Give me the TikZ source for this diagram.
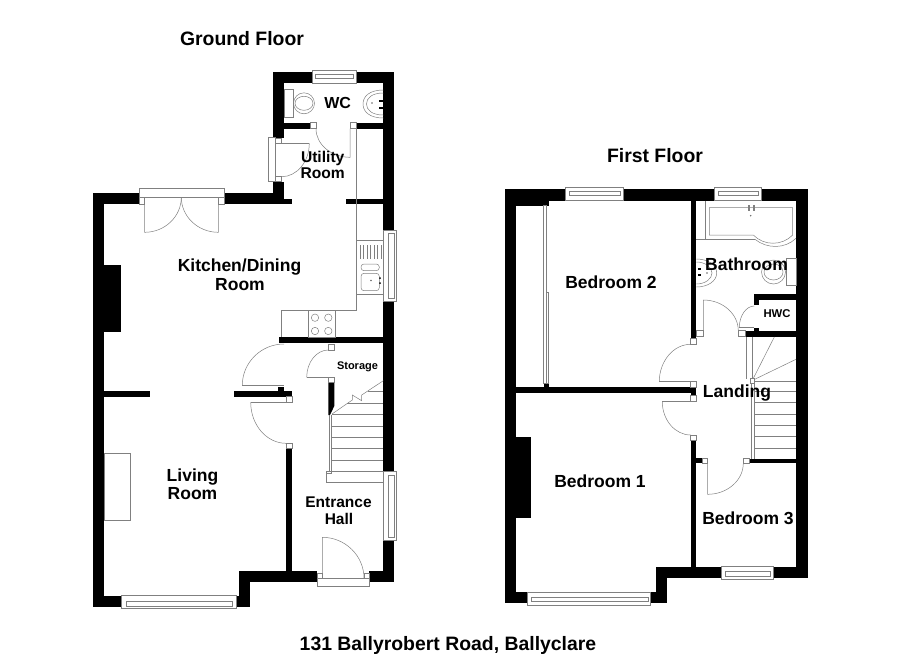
\documentclass[tikz,border=0pt]{standalone}
\usepackage{fontspec}
\setmainfont{Liberation Sans}
\usetikzlibrary{calc}
\tikzset{
    wall/.style={fill=black},
    fitting/.style={draw=black!50,line width=0.5pt},
    jamb/.style={draw=black!50,line width=0.5pt,fill=white},
    roomlabel/.style={font=\bfseries\fontsize{#1}{#1}\selectfont,inner sep=0pt},
    roomlabel/.default=17.5
}
\newcommand{\doorleaf}[3]{\draw[fitting] (#1) -- (#2) .. controls ($(#2)+0.55*(#3)-0.55*(#1)$) and ($(#3)+0.55*(#2)-0.55*(#1)$) .. (#3);}
\newcommand{\doorarc}[3]{\draw[fitting] (#2) .. controls ($(#2)+0.55*(#3)-0.55*(#1)$) and ($(#3)+0.55*(#2)-0.55*(#1)$) .. (#3);}
\begin{document}
\begin{tikzpicture}[x=1pt,y=-1pt]
    \useasboundingbox (0,0) rectangle (900,654);

    \fill[wall] (273.3,72) rectangle (312.7,83.3);
    \fill[wall] (356,72) rectangle (394.3,83.3);
    \fill[wall] (273.3,72) rectangle (284,138.3);
    \fill[wall] (383.3,72) rectangle (394.3,230);
    \fill[wall] (383.3,301) rectangle (394.3,471);
    \fill[wall] (383.3,540.7) rectangle (394.3,581.7);
    \fill[wall] (284,122.7) rectangle (310.7,128.7);
    \fill[wall] (356,122.7) rectangle (383.3,128.7);
    \fill[wall] (273.3,181.7) rectangle (284,204.3);
    \fill[wall] (223.3,193.3) rectangle (284,204.3);
    \fill[wall] (284,199) rectangle (292.3,204.3);
    \fill[wall] (345.7,199) rectangle (383.3,204.3);
    \fill[wall] (92.7,193.3) rectangle (139.3,204.3);
    \fill[wall] (92.7,193.3) rectangle (104,606.7);
    \fill[wall] (104,265.3) rectangle (120.7,331.7);
    \fill[wall] (278.7,337.3) rectangle (383.3,343.3);
    \fill[wall] (104,391.3) rectangle (150,396.7);
    \fill[wall] (233.7,391.3) rectangle (292,396.7);
    \fill[wall] (278.3,387.3) rectangle (284,391.3);
    \fill[wall] (286,448.3) rectangle (292,570.7);
    \fill[wall] (92.7,596) rectangle (121.7,606.7);
    \fill[wall] (236.7,596) rectangle (250,606.7);
    \fill[wall] (239.3,570.7) rectangle (250,606.7);
    \fill[wall] (239.3,570.7) rectangle (317.3,581.7);
    \fill[wall] (369.3,570.7) rectangle (394.3,581.7);
    \fill[wall] (328.3,382.3) -- (334.3,382.3) -- (334.3,406) -- (330,415) -- (328.3,415) -- cycle;

    \draw[jamb] (312.7,70.7) rectangle (356,83.3);
    \draw[fitting] (315,74) rectangle (353.5,78);
    \draw[jamb] (139.3,188.3) rectangle (224,197.3);
    \draw[jamb] (139.3,197.3) rectangle (144.7,204.3);
    \draw[jamb] (218.3,197.3) rectangle (224,204.3);
    \doorleaf{144.7,197.3}{144.7,232.3}{181.3,197.3}
    \doorleaf{218.3,197.3}{218.3,232.3}{181.3,197.3}
    \draw[jamb] (268.3,137.3) rectangle (275.7,181.7);
    \draw[jamb] (275.7,138.3) rectangle (281.7,143.3);
    \draw[jamb] (275.7,176.7) rectangle (281.7,181.7);
    \draw[fitting] (275.7,143.3) -- (309.3,143.3);
    \doorarc{281.7,143.3}{309.3,143.3}{281.7,176.7}
    \draw[jamb] (310.7,122.7) rectangle (316,128.7);
    \draw[jamb] (350,122.7) rectangle (356,128.7);
    \doorleaf{350,128.7}{350,157.3}{316,128.7}

    \draw[fitting] (284,89.3) rectangle (293.3,117.3);
    \draw[fitting] (304,103.3) ellipse [x radius=10.5,y radius=10.5];
    \draw[fitting] (304,103.3) ellipse [x radius=9,y radius=7];
    \draw[fitting] (383.3,90) .. controls (370,90) and (363,96) .. (363,104) .. controls (363,112) and (370,118) .. (383.3,118);
    \draw[fitting] (383.3,93) .. controls (372,93) and (366.5,98) .. (366.5,104) .. controls (366.5,110) and (372,115) .. (383.3,115);
    \fill[black] (379,99.5) rectangle (383,101.5);
    \fill[black] (379,106.5) rectangle (383,108.5);
    \fill[black!60] (372,103) circle (0.8);

    \draw[fitting] (356.7,128.7) -- (356.7,310) -- (281.3,310) -- (281.3,337.3);
    \draw[fitting] (308,310) rectangle (335,337.3);
    \draw[fitting] (315,317.7) circle (3.7);
    \draw[fitting] (328.3,317.7) circle (3.7);
    \draw[fitting] (315,331) circle (3.7);
    \draw[fitting] (328.3,331) circle (3.7);
    \draw[fitting] (356.7,240) -- (383.3,240);
    \draw[fitting] (356.7,294.3) -- (383.3,294.3);
    \foreach \ribx in {360,363.5,367,370.5,374,377.5,381}
        \draw[fitting] (\ribx,245) -- (\ribx,259.3);
    \draw[fitting,rounded corners=3pt] (361,264) rectangle (379.3,270.7);
    \draw[fitting,rounded corners=3pt] (361,273.3) rectangle (379.3,290.7);
    \fill[black] (380,278) circle (1);
    \fill[black] (380,283) circle (1);
    \fill[black!60] (371,280.5) circle (0.8);
    \draw[jamb] (383.3,230) rectangle (396.7,301);
    \draw[fitting] (388.3,233) rectangle (394.3,298);

    \draw[jamb] (328.3,344) rectangle (334.3,350);
    \draw[jamb] (328.3,377.3) rectangle (334.3,382.3);
    \draw[fitting] (328.3,377.3) -- (306.7,377.3);
    \doorarc{328.3,377.3}{306.7,377.3}{328.3,350}
    \draw[fitting] (242.3,385.3) -- (284,385.3);
    \doorarc{284,385.3}{242.3,385.3}{284,344}
    \draw[jamb] (286,396.7) rectangle (292,402.3);
    \draw[fitting] (286,402.3) -- (250.7,402.3);
    \doorarc{286,402.3}{250.7,402.3}{286,443.3}
    \draw[jamb] (286,443.3) rectangle (292,448.3);

    \draw[fitting] (329,415) -- (329,473.3);
    \draw[fitting] (331.7,415) -- (331.7,473.3);
    \foreach \tready in {414.7,426,437.3,448.7,460}
        \draw[fitting] (331.7,\tready) -- (383.3,\tready);
    \draw[fitting] (346.7,403.3) -- (383.3,403.3);
    \draw[fitting] (368,391.7) -- (383.3,391.7);
    \draw[fitting] (332,414) -- (352.3,400) -- (352.3,395) -- (361.7,400.7) -- (361.7,395) -- (383.3,380.7);
    \draw[jamb] (326.7,471.7) rectangle (383.3,482.7);
    \draw[jamb] (326.7,471.7) rectangle (331.7,473.3);
    \draw[jamb] (383.3,471) rectangle (396.7,540.7);
    \draw[fitting] (388.3,475) rectangle (394.3,537);

    \draw[fitting] (104,453.3) rectangle (130.7,520.7);
    \draw[jamb] (121.7,595.7) rectangle (236.7,608.3);
    \draw[fitting] (126.7,601.7) rectangle (232.7,606.7);
    \draw[jamb] (317.3,578.3) rectangle (369.3,586);
    \draw[jamb] (317.3,573.3) rectangle (322.3,578.3);
    \draw[jamb] (364,573.3) rectangle (369.3,578.3);
    \doorleaf{322.3,578.3}{322.3,537.3}{364,578.3}

    \fill[wall] (505,189.3) rectangle (565,200.7);
    \fill[wall] (623.7,189.3) rectangle (714.3,200.7);
    \fill[wall] (761.7,189.3) rectangle (807.7,200.7);
    \fill[wall] (516.3,200.7) rectangle (549,205.7);
    \fill[wall] (505,189.3) rectangle (516.3,602.7);
    \fill[wall] (796,189.3) rectangle (807.7,577.7);
    \fill[wall] (690.7,200.7) rectangle (696.3,338.3);
    \fill[wall] (516.3,386.7) rectangle (696.3,392.7);
    \fill[wall] (690.7,386.7) rectangle (696.3,395.7);
    \fill[wall] (543.7,383) rectangle (549,386.7);
    \fill[wall] (516.3,436.7) rectangle (531,518.3);
    \fill[wall] (690.7,440.7) rectangle (696.3,566.7);
    \fill[wall] (696.3,458.3) rectangle (702.3,463.3);
    \fill[wall] (749,459) rectangle (796,463.3);
    \fill[wall] (745,330.7) rectangle (796,336.7);
    \fill[wall] (754.3,327.7) rectangle (759.3,330.7);
    \fill[wall] (754.3,294) rectangle (796,300);
    \fill[wall] (754.3,294) rectangle (759.3,305);
    \fill[wall] (505,592) rectangle (527.7,602.7);
    \fill[wall] (650.7,592) rectangle (667.3,602.7);
    \fill[wall] (656.3,566.7) rectangle (667.3,602.7);
    \fill[wall] (656.3,566.7) rectangle (721.7,577.7);
    \fill[wall] (773.7,566.7) rectangle (807.7,577.7);

    \draw[jamb] (565,187.3) rectangle (623.7,200.7);
    \draw[fitting] (569,191) rectangle (620,195);
    \draw[jamb] (714.3,187.3) rectangle (761.7,200.7);
    \draw[fitting] (718,191) rectangle (758,195);
    \draw[fitting] (543.7,205.7) rectangle (546.5,383);
    \draw[fitting] (546.5,292.5) rectangle (548.3,383);

    \draw[jamb] (690.7,338.3) rectangle (696.3,344.3);
    \draw[jamb] (690.7,381.7) rectangle (696.3,387);
    \draw[fitting] (690.7,381.7) -- (659.3,381.7);
    \doorarc{690.7,381.7}{659.3,381.7}{690.7,344.3}
    \draw[jamb] (690.7,395.7) rectangle (696.3,401.7);
    \draw[fitting] (690.7,401.7) -- (662.3,401.7);
    \doorarc{690.7,401.7}{662.3,401.7}{690.7,435}
    \draw[jamb] (690.7,435) rectangle (696.3,440.7);
    \draw[jamb] (696.3,330.7) rectangle (703.3,336.7);
    \draw[jamb] (738.3,330.7) rectangle (745,336.7);
    \doorleaf{703.3,330.7}{703.3,300}{738.3,330.7}
    \draw[fitting] (739.3,327.7) -- (754.3,327.7);
    \doorarc{754.3,327.7}{739.3,327.7}{754.3,306}
    \draw[jamb] (702.3,458.3) rectangle (707.7,463.3);
    \draw[jamb] (743.3,458.3) rectangle (749,463.3);
    \doorleaf{707.7,463.3}{707.7,494.3}{743.3,463.3}

    \draw[fitting] (705.7,200.7) -- (705.7,239.3);
    \draw[fitting] (696.3,239.3) -- (755,239.3);
    \draw[fitting] (755,239.3) .. controls (767,249) and (785,249) .. (796,238.3);
    \draw[fitting] (753.3,235) -- (709.3,235) -- (709.3,207.7) -- (792.7,207.7) -- (792.7,235) .. controls (782,246) and (764,246) .. (753.3,235);
    \draw[fitting] (748,205) rectangle (749.5,210);
    \draw[fitting] (753,205) rectangle (754.5,210);
    \fill[black!60] (750.7,215.7) circle (0.8);

    \draw[fitting] (696.3,259) .. controls (708,259) and (716.7,265) .. (716.7,273) .. controls (716.7,281) and (708,287) .. (696.3,287);
    \draw[fitting] (696.3,262) .. controls (705,262) and (712,267) .. (712,273) .. controls (712,279) and (705,284) .. (696.3,284);
    \fill[black] (698,268) rectangle (701,270);
    \fill[black] (698,274) rectangle (701,276);
    \fill[black!60] (707,273) circle (0.8);
    \draw[fitting] (786.7,258.3) rectangle (796,285.7);
    \draw[fitting] (773.5,272) ellipse [x radius=12,y radius=12];
    \draw[fitting] (773.5,272) ellipse [x radius=9.5,y radius=8];

    \draw[fitting] (746.7,336.7) -- (746.7,379);
    \draw[fitting] (752.3,336.7) -- (752.3,378);
    \draw[fitting] (751.7,383) -- (751.7,459);
    \draw[fitting] (754.3,383) -- (754.3,459);
    \draw[jamb] (750.3,378) rectangle (754.3,383);
    \draw[fitting] (753.5,378) -- (774.3,337);
    \draw[fitting] (754.3,379.5) -- (796,359.3);
    \draw[fitting] (754.3,381) -- (796,381);
    \foreach \tready in {391.7,402.7,414,425,436.7,448.3}
        \draw[fitting] (754.3,\tready) -- (796,\tready);

    \draw[jamb] (527.7,592) rectangle (650.7,605);
    \draw[fitting] (531.7,597.3) rectangle (648.3,601.7);
    \draw[jamb] (721.7,566.7) rectangle (773.7,579.3);
    \draw[fitting] (725,571.7) rectangle (770,576.7);

    \node[roomlabel=19.4] (groundfloor) at (242,39) {Ground Floor};
    \node[roomlabel=19.4] (firstfloor) at (655,156) {First Floor};
    \node[roomlabel=19.4] (address) at (448,645) {131 Ballyrobert Road, Ballyclare};
    \node[roomlabel=16] (wc) at (337.7,103) {WC};
    \node[roomlabel=15.6] (utility) at (322.7,158) {Utility};
    \node[roomlabel=15.6] (utilityroom) at (322.7,173.5) {Room};
    \node[roomlabel] (kitchen) at (239.5,267.5) {Kitchen/Dining};
    \node[roomlabel] (kitchenroom) at (240,285) {Room};
    \node[roomlabel] (living) at (192.5,477) {Living};
    \node[roomlabel] (livingroom) at (192.5,493.5) {Room};
    \node[roomlabel=15.5] (entrance) at (338.5,502.5) {Entrance};
    \node[roomlabel=15.5] (entrancehall) at (339,519) {Hall};
    \node[roomlabel=11] (storage) at (357.5,366.5) {Storage};
    \node[roomlabel] (bedroomtwo) at (611,282.5) {Bedroom 2};
    \node[roomlabel] (bathroom) at (746.5,264.5) {Bathroom};
    \node[roomlabel=11.3] (hwc) at (777,313.5) {HWC};
    \node[roomlabel] (landing) at (737,393.5) {Landing};
    \node[roomlabel] (bedroomone) at (600,481) {Bedroom 1};
    \node[roomlabel] (bedroomthree) at (748,518) {Bedroom 3};
\end{tikzpicture}
\end{document}
